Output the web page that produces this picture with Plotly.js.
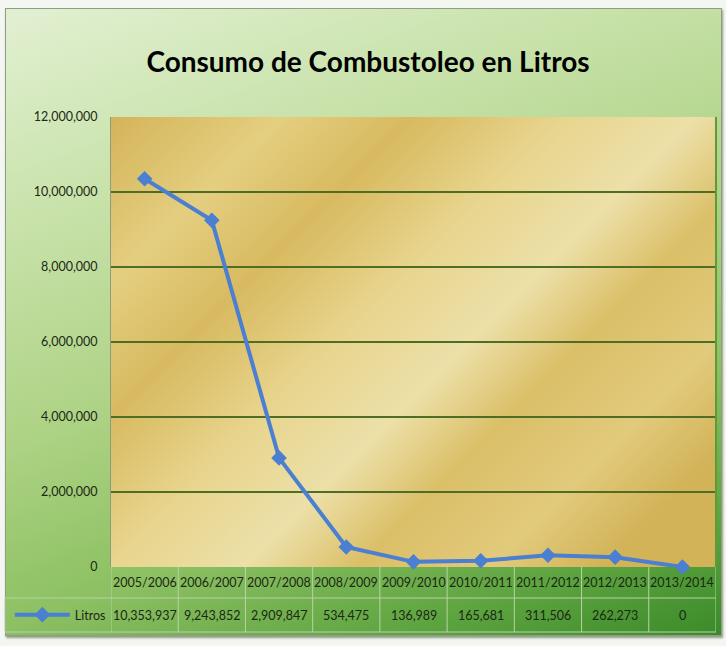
<!DOCTYPE html>
<html>
<head>
<meta charset="utf-8">
<script src="https://cdn.plot.ly/plotly-3.0.1.min.js"></script>
<style>
  html, body { margin:0; padding:0; background:#ffffff; }
  #wrap { position:relative; width:726px; height:646px; overflow:hidden; background:#f4f6f2; }
  #frame { position:absolute; left:5px; top:8px; width:715px; height:626px;
    border:1px solid #8f9c86;
    background: linear-gradient(160deg, #e2f0d2 0%, #c8e2aa 25%, #acd283 50%, #8cc062 70%, #5aa23e 88%, #3b8a29 100%);
    box-shadow: 1px 2px 2px rgba(40,70,20,0.5); }
  #chart { position:absolute; left:0; top:0; width:726px; height:646px; }
</style>
</head>
<body>
<div id="wrap"><div id="frame"></div><div id="chart"></div></div>
<script>
const categories = ['2005/2006','2006/2007','2007/2008','2008/2009','2009/2010','2010/2011','2011/2012','2012/2013','2013/2014'];
const litros = [10353937, 9243852, 2909847, 534475, 136989, 165681, 311506, 262273, 0];
const seriesName = 'Litros';
const titleText = 'Consumo de Combustoleo en Litros';

const W = 726, H = 646;
const m = {l:111, r:10, t:117, b:79};
const pw = W - m.l - m.r, ph = H - m.t - m.b;
const py = px => -(px) / ph;      // pixels below the plot bottom -> paper y
const row1 = py(31), row2 = py(65), leftEdge = (5 - m.l) / pw;

const fontFam = 'Lato, "Open Sans", sans-serif';
const txtCol = '#1c2814';

// gold plot-area background as an SVG gradient image
const goldSvg = `<svg xmlns="http://www.w3.org/2000/svg" width="600" height="450" preserveAspectRatio="none">
<defs><linearGradient id="g" x1="0" y1="0" x2="1" y2="0.75">
<stop offset="0" stop-color="#d4b459"/><stop offset="0.18" stop-color="#e4ce80"/>
<stop offset="0.32" stop-color="#d8ba60"/><stop offset="0.48" stop-color="#e8d58e"/>
<stop offset="0.62" stop-color="#ece0a8"/><stop offset="0.74" stop-color="#dbbf68"/>
<stop offset="0.88" stop-color="#e2ca7c"/><stop offset="1" stop-color="#d2b358"/>
</linearGradient></defs>
<rect width="600" height="450" fill="url(#g)"/></svg>`;
const goldUri = 'data:image/svg+xml;base64,' + btoa(goldSvg);

const shapes = [];
const lineCol = '#b9d2a6';
shapes.push({type:'line', xref:'paper', yref:'paper', x0:leftEdge, x1:1, y0:row1, y1:row1, line:{color:lineCol, width:1}});
shapes.push({type:'line', xref:'paper', yref:'paper', x0:leftEdge, x1:1, y0:row2, y1:row2, line:{color:lineCol, width:1}});
shapes.push({type:'line', xref:'paper', yref:'paper', x0:leftEdge, x1:leftEdge, y0:row1, y1:row2, line:{color:lineCol, width:1}});
for (let i = 0; i <= categories.length; i++) {
  shapes.push({type:'line', xref:'x', yref:'paper', x0:i-0.5, x1:i-0.5, y0:0, y1:row2, line:{color:lineCol, width:1}});
}
shapes.push({type:'line', xref:'paper', yref:'paper', x0:1, x1:1, y0:0, y1:1, line:{color:'#5e9a3c', width:2}});

const annotations = [];
categories.forEach((c, i) => {
  annotations.push({x:i, xref:'x', y:(0+row1)/2, yref:'paper', text:c, showarrow:false,
    font:{family:fontFam, size:12.5, color:txtCol}, xanchor:'center', yanchor:'middle'});
  annotations.push({x:i, xref:'x', y:(row1+row2)/2, yref:'paper', text:litros[i].toLocaleString('en-US'), showarrow:false,
    font:{family:fontFam, size:12.5, color:txtCol}, xanchor:'center', yanchor:'middle'});
});

const trace = {
  x: categories, y: litros, name: seriesName, type:'scatter', mode:'lines+markers',
  line:{color:'#4a7fd2', width:4},
  marker:{symbol:'diamond', size:12, color:'#4a7fd2'},
  showlegend:true, cliponaxis:false
};

const layout = {
  width:W, height:H, margin:m,
  paper_bgcolor:'rgba(0,0,0,0)', plot_bgcolor:'rgba(0,0,0,0)',
  title:{text:titleText, x:368/W, xref:'container', xanchor:'center', y:1-62/H, yref:'container', yanchor:'middle',
    font:{family:'Lato, sans-serif', size:28, color:'#000000', weight:'bold'}},
  xaxis:{type:'category', range:[-0.5, categories.length-0.5], showticklabels:false, showgrid:false, zeroline:false, showline:false, fixedrange:true},
  yaxis:{range:[0, 12000000], dtick:2000000, tickformat:',d', showgrid:true, gridcolor:'#4d6e24', gridwidth:1.5,
    zeroline:false, showline:true, linecolor:'#8e9c7e', linewidth:1, ticks:'', ticklabelstandoff:10,
    tickfont:{family:fontFam, size:12.5, color:txtCol}, fixedrange:true},
  showlegend:true,
  legend:{x:leftEdge+0.008, xanchor:'left', y:(row1+row2)/2, yanchor:'middle', bgcolor:'rgba(0,0,0,0)',
    font:{family:fontFam, size:12.5, color:txtCol}, itemwidth:55, borderwidth:0},
  images:[{source:goldUri, xref:'paper', yref:'paper', x:0, y:1, sizex:1, sizey:1, sizing:'stretch', layer:'below', xanchor:'left', yanchor:'top'}],
  shapes: shapes,
  annotations: annotations
};

Plotly.newPlot('chart', [trace], layout, {displayModeBar:false, staticPlot:true});
</script>
</body>
</html>
